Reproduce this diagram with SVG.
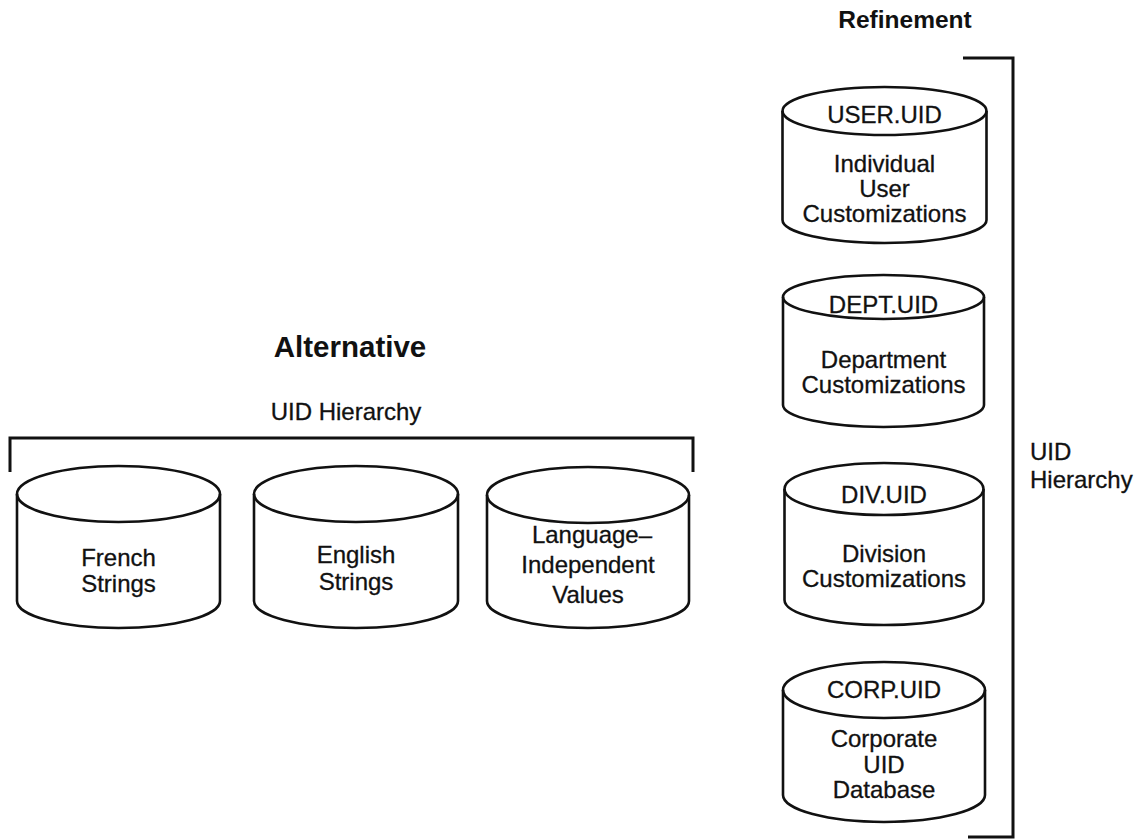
<svg xmlns="http://www.w3.org/2000/svg" width="1148" height="840" viewBox="0 0 1148 840">
  <style>
    .bg { fill: #ffffff; }
    .cyl { fill: none; stroke: #111; stroke-width: 2.6; stroke-linejoin: round; }
    .brk { fill: none; stroke: #111; stroke-width: 3; stroke-linejoin: miter; }
    .lbl { font-family: "Liberation Sans", Arial, Helvetica, sans-serif; font-size: 24px; fill: #111; stroke: #111; stroke-width: 0.3; text-anchor: middle; }
    .side { font-family: "Liberation Sans", Arial, Helvetica, sans-serif; font-size: 24px; fill: #111; stroke: #111; stroke-width: 0.3; }
    .title { font-family: "Liberation Sans", Arial, Helvetica, sans-serif; font-weight: bold; fill: #111; text-anchor: middle; }
  </style>
  <rect class="bg" x="0" y="0" width="1148" height="840"/>

  <!-- Titles -->
  <text id="title-refinement" class="title" x="905" y="28" font-size="24.5">Refinement</text>
  <text id="title-alternative" class="title" x="350" y="357" font-size="29.5">Alternative</text>

  <!-- Brackets grouping the hierarchies -->
  <g id="connectors">
    <path class="brk" d="M10,472 V438 H693 V472"/>
    <path class="brk" d="M963,58 H1013 V837 H968"/>
  </g>
  <text id="label-alt-hierarchy" class="lbl" x="346" y="420">UID Hierarchy</text>
  <text id="label-ref-hierarchy" class="side" x="1030" y="460">UID<tspan x="1030" y="488">Hierarchy</tspan></text>

  <!-- Alternative: side-by-side cylinders -->
  <g id="french">
    <ellipse class="cyl" cx="118.5" cy="494" rx="101.5" ry="28"/>
    <path class="cyl" d="M17,494 V601 A101.5,27 0 0 0 220,601 V494"/>
    <text class="lbl" x="118.5" y="566">French</text>
    <text class="lbl" x="118.5" y="592">Strings</text>
  </g>
  <g id="english">
    <ellipse class="cyl" cx="356" cy="494" rx="102" ry="28"/>
    <path class="cyl" d="M254,494 V601 A102,27 0 0 0 458,601 V494"/>
    <text class="lbl" x="356" y="563">English</text>
    <text class="lbl" x="356" y="590">Strings</text>
  </g>
  <g id="language">
    <ellipse class="cyl" cx="588" cy="495" rx="101" ry="28"/>
    <path class="cyl" d="M487,495 V601 A101,27 0 0 0 689,601 V495"/>
    <text class="lbl" x="592" y="543">Language–</text>
    <text class="lbl" x="588" y="573">Independent</text>
    <text class="lbl" x="588" y="603">Values</text>
  </g>

  <!-- Refinement: stacked cylinders -->
  <g id="user-uid">
    <ellipse class="cyl" cx="884.5" cy="111" rx="102" ry="24"/>
    <path class="cyl" d="M782.5,111 V220 A102,23 0 0 0 986.5,220 V111"/>
    <text class="lbl" x="884.5" y="123">USER.UID</text>
    <text class="lbl" x="884.5" y="172">Individual</text>
    <text class="lbl" x="884.5" y="197">User</text>
    <text class="lbl" x="884.5" y="222">Customizations</text>
  </g>
  <g id="dept-uid">
    <ellipse class="cyl" cx="883.5" cy="297" rx="100.5" ry="22"/>
    <path class="cyl" d="M783,297 V405 A100.5,22 0 0 0 984,405 V297"/>
    <text class="lbl" x="883.5" y="313">DEPT.UID</text>
    <text class="lbl" x="883.5" y="368">Department</text>
    <text class="lbl" x="883.5" y="393">Customizations</text>
  </g>
  <g id="div-uid">
    <ellipse class="cyl" cx="884" cy="489" rx="99.5" ry="26"/>
    <path class="cyl" d="M784.5,489 V600 A99.5,25 0 0 0 983.5,600 V489"/>
    <text class="lbl" x="884" y="503">DIV.UID</text>
    <text class="lbl" x="884" y="562">Division</text>
    <text class="lbl" x="884" y="587">Customizations</text>
  </g>
  <g id="corp-uid">
    <ellipse class="cyl" cx="884" cy="690" rx="101" ry="28"/>
    <path class="cyl" d="M783,690 V795 A101,27 0 0 0 985,795 V690"/>
    <text class="lbl" x="884" y="698">CORP.UID</text>
    <text class="lbl" x="884" y="747">Corporate</text>
    <text class="lbl" x="884" y="773">UID</text>
    <text class="lbl" x="884" y="798">Database</text>
  </g>
</svg>
